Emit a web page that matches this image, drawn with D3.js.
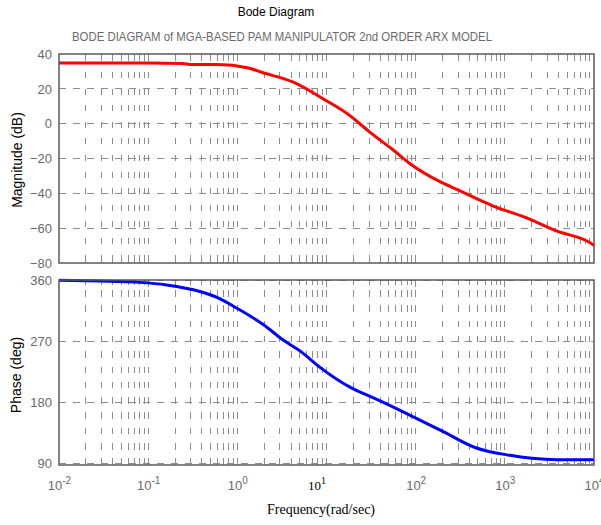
<!DOCTYPE html>
<html>
<head>
<meta charset="utf-8">
<script src="https://cdn.jsdelivr.net/npm/d3@7"></script>
<style>
  html, body { margin: 0; padding: 0; background: #fff; }
  svg { display: block; }
</style>
</head>
<body>
<svg id="chart" width="601" height="525"></svg>
<script>
// ---------------- data ----------------
const titleText = "Bode Diagram";
const subtitleText = "BODE DIAGRAM of MGA-BASED PAM MANIPULATOR 2nd ORDER ARX MODEL";
const xLabelText = "Frequency(rad/sec)";
const magLabelText = "Magnitude (dB)";
const phaseLabelText = "Phase (deg)";

const xTickExponents = [-2, -1, 0, 1, 2, 3, 4];
const magTicks = [40, 20, 0, -20, -40, -60, -80];
const phaseTicks = [360, 270, 180, 90];

const magFreq = [0.01, 0.03, 0.105, 0.24, 0.31, 0.59, 1.33, 1.87, 4.25, 9.2, 18.3, 23.8, 30.8, 56, 85, 187, 288, 742, 1610, 3800, 9800, 10000];
const magDb   = [34.8, 34.8, 34.8, 34.6, 33.9, 33.9, 32.0, 29.5, 23.8, 14.2, 4.6, -0.2, -5.0, -15.1, -22.7, -33.3, -37.7, -47.3, -53.4, -61.6, -69.6, -70.0];

const phaseFreq = [0.01, 0.029, 0.081, 0.161, 0.38, 0.59, 0.98, 1.95, 3.27, 5.04, 8.45, 18.3, 23.8, 30.8, 94, 204, 462, 1142, 3810, 10000];
const phaseDeg  = [359.5, 358.5, 356.5, 352.7, 343.0, 334.2, 318.7, 294.3, 271.4, 255.4, 231.1, 202.0, 194.6, 188.3, 158.2, 136.3, 112.9, 101.3, 94.9, 94.9];

// ---------------- layout ----------------
const svg = d3.select("#chart");
const L = 59, R = 594;
const magTop = 54, magBot = 263;
const phTop = 280, phBot = 465;

const x = d3.scaleLog().domain([1e-2, 1e4]).range([L, R]);
const yMag = d3.scaleLinear().domain([-80, 40]).range([magBot, magTop]);
const yPh = d3.scaleLinear().domain([90, 360]).range([463, phTop]);

const gridColor = "#8d8d8d";
const frameColor = "#5a5a5a";
const tickColor = "#6a6a6a";

// vertical grid positions (1..9 x 10^k)
const vGrid = [];
for (let k = -2; k < 4; k++) for (let m = 1; m <= 9; m++) vGrid.push(m * Math.pow(10, k));
vGrid.push(1e4);

function drawPanel(top, bot, yScale, hTicks, vDash, vOffset) {
  const g = svg.append("g");
  // vertical grid
  g.selectAll(".vg").data(vGrid.filter(v => v > 1e-2 && v < 1e4)).enter().append("line")
    .attr("x1", d => x(d)).attr("x2", d => x(d))
    .attr("y1", top).attr("y2", bot)
    .attr("stroke", gridColor).attr("stroke-width", 1)
    .attr("stroke-dasharray", vDash).attr("stroke-dashoffset", vOffset)
    .attr("shape-rendering", "crispEdges");
  // horizontal grid
  g.selectAll(".hg").data(hTicks).enter().append("line")
    .attr("x1", L).attr("x2", R)
    .attr("y1", d => yScale(d)).attr("y2", d => yScale(d))
    .attr("stroke", gridColor).attr("stroke-width", 1)
    .attr("stroke-dasharray", "7,7")
    .attr("shape-rendering", "crispEdges");
  // inner ticks top & bottom
  vGrid.forEach(v => {
    if (v <= 1e-2 || v >= 1e4) return;
    const len = (Math.abs(Math.log10(v) - Math.round(Math.log10(v))) < 1e-9) ? 7 : 5;
    g.append("line").attr("x1", x(v)).attr("x2", x(v)).attr("y1", top).attr("y2", top + len)
      .attr("stroke", gridColor).attr("shape-rendering", "crispEdges");
    g.append("line").attr("x1", x(v)).attr("x2", x(v)).attr("y1", bot).attr("y2", bot - len)
      .attr("stroke", gridColor).attr("shape-rendering", "crispEdges");
  });
  return g;
}

drawPanel(magTop, magBot, yMag, [20, 0, -20, -40, -60], "6,10.6", 15.2);
drawPanel(phTop, phBot, yPh, [360, 270, 180, 90], "6.5,8.8", 5.3);

// curves
const magLine = d3.line().x(d => x(d[0])).y(d => yMag(d[1])).curve(d3.curveMonotoneX);
svg.append("path").datum(magFreq.map((f, i) => [f, magDb[i]]))
  .attr("d", magLine).attr("fill", "none").attr("stroke", "#ff0000")
  .attr("stroke-width", 3).attr("stroke-linejoin", "round");

const phLine = d3.line().x(d => x(d[0])).y(d => yPh(d[1])).curve(d3.curveMonotoneX);
svg.append("path").datum(phaseFreq.map((f, i) => [f, phaseDeg[i]]))
  .attr("d", phLine).attr("fill", "none").attr("stroke", "#0000ff")
  .attr("stroke-width", 3).attr("stroke-linejoin", "round");

// frames
[[magTop, magBot], [phTop, phBot]].forEach(([t, b]) => {
  svg.append("rect").attr("x", L).attr("y", t).attr("width", R - L).attr("height", b - t)
    .attr("fill", "none").attr("stroke", frameColor).attr("stroke-width", 1.5);
});

// y axes
const magAxis = svg.append("g").attr("transform", `translate(${L},0)`)
  .call(d3.axisLeft(yMag).tickValues(magTicks).tickSize(0).tickPadding(7).tickFormat(d3.format("d")));
const phAxis = svg.append("g").attr("transform", `translate(${L},0)`)
  .call(d3.axisLeft(yPh).tickValues(phaseTicks).tickSize(0).tickPadding(7).tickFormat(d3.format("d")));
[magAxis, phAxis].forEach(a => {
  a.select(".domain").remove();
  a.selectAll("text").attr("fill", tickColor).attr("font-family", "Liberation Sans, Arial, sans-serif")
    .attr("font-size", 13);
});

// x axis
const xAxis = svg.append("g").attr("transform", `translate(0,${phBot})`)
  .call(d3.axisBottom(x).tickValues(xTickExponents.map(e => Math.pow(10, e))).tickSize(0).tickFormat(""));
xAxis.select(".domain").remove();
xAxis.selectAll(".tick").each(function(d) {
  const e = Math.round(Math.log10(d));
  const special = (e === 1);
  const t = d3.select(this).append("text")
    .attr("y", 25).attr("x", special ? -10 : 0)
    .attr("text-anchor", "middle")
    .attr("fill", special ? "#000" : tickColor)
    .attr("font-family", special ? "Liberation Serif, Times New Roman, serif" : "Liberation Sans, Arial, sans-serif")
    .attr("font-size", 13);
  t.append("tspan").text("10");
  t.append("tspan").attr("dy", -6).attr("font-size", 10).text(String(e).replace("-", "-"));
});

// titles / labels
svg.append("text").attr("x", 276).attr("y", 16).attr("text-anchor", "middle")
  .attr("font-family", "Liberation Sans, Arial, sans-serif").attr("font-size", 12).attr("fill", "#000")
  .text(titleText);
svg.append("text").attr("x", 282).attr("y", 41).attr("text-anchor", "middle")
  .attr("font-family", "Liberation Sans, Arial, sans-serif").attr("font-size", 12).attr("fill", tickColor)
  .attr("textLength", 420).attr("lengthAdjust", "spacingAndGlyphs")
  .text(subtitleText);
svg.append("text").attr("transform", "translate(22,160) rotate(-90)").attr("text-anchor", "middle")
  .attr("font-family", "Liberation Sans, Arial, sans-serif").attr("font-size", 14).attr("fill", "#000")
  .text(magLabelText);
svg.append("text").attr("transform", "translate(21,375) rotate(-90)").attr("text-anchor", "middle")
  .attr("font-family", "Liberation Sans, Arial, sans-serif").attr("font-size", 14).attr("fill", "#000")
  .text(phaseLabelText);
svg.append("text").attr("x", 321).attr("y", 514).attr("text-anchor", "middle")
  .attr("font-family", "Liberation Serif, Times New Roman, serif").attr("font-size", 14).attr("fill", "#000")
  .text(xLabelText);
</script>
</body>
</html>
